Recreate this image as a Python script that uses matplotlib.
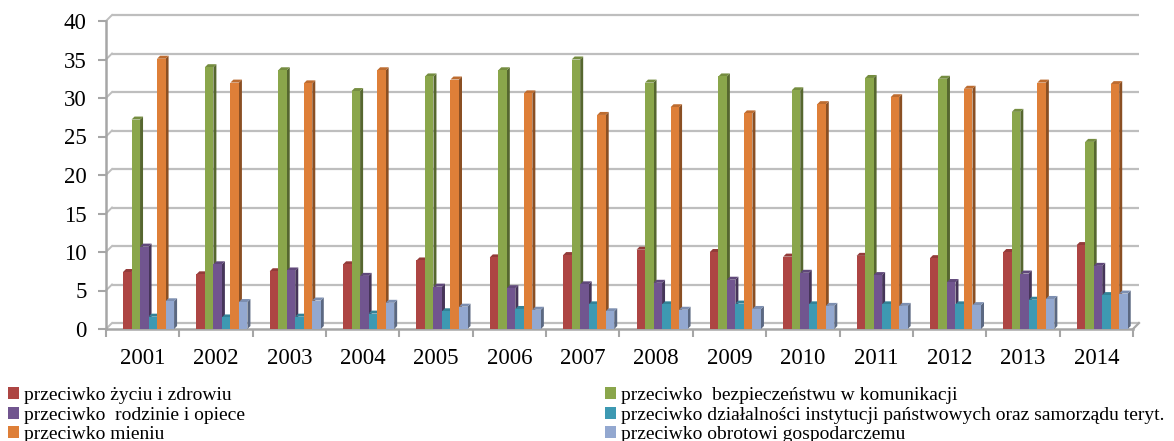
import numpy as np
import matplotlib
matplotlib.use("Agg")
import matplotlib.pyplot as plt
from matplotlib.patches import Patch

years = ["2001", "2002", "2003", "2004", "2005", "2006", "2007",
         "2008", "2009", "2010", "2011", "2012", "2013", "2014"]

zycie = [7.4, 7.1, 7.5, 8.4, 8.9, 9.3, 9.6, 10.3, 10.0, 9.4, 9.5, 9.2, 10.0, 10.9]
komunikacja = [27.2, 34.0, 33.6, 30.9, 32.8, 33.6, 35.0, 32.0, 32.8, 31.0, 32.6, 32.5, 28.2, 24.3]
rodzina = [10.7, 8.4, 7.6, 6.9, 5.5, 5.3, 5.8, 6.0, 6.4, 7.3, 7.0, 6.1, 7.2, 8.2]
instytucje = [1.6, 1.5, 1.6, 2.0, 2.3, 2.6, 3.2, 3.2, 3.3, 3.2, 3.2, 3.2, 3.8, 4.4]
mienie = [35.1, 32.0, 31.9, 33.6, 32.4, 30.6, 27.8, 28.8, 28.0, 29.2, 30.1, 31.2, 32.0, 31.8]
obrot = [3.6, 3.5, 3.7, 3.4, 2.9, 2.5, 2.3, 2.5, 2.6, 3.0, 3.0, 3.1, 3.9, 4.6]

labels = ["przeciwko życiu i zdrowiu",
          "przeciwko  bezpieczeństwu w komunikacji",
          "przeciwko  rodzinie i opiece",
          "przeciwko działalności instytucji państwowych oraz samorządu teryt.",
          "przeciwko mieniu",
          "przeciwko obrotowi gospodarczemu"]
series = [zycie, komunikacja, rodzina, instytucje, mienie, obrot]
colors = ["#AD4543", "#8AA64B", "#71558F", "#3D99B2", "#DE7F38", "#93A8D0"]

FONT = ["Liberation Serif", "DejaVu Serif"]
plt.rcParams["font.family"] = FONT

W, H, DPI = 1174, 441, 100
fig = plt.figure(figsize=(W / DPI, H / DPI), dpi=DPI)
left_px, right_px, bottom_px, top_px = 106, 1133, 329, 21
ax = fig.add_axes([left_px / W, 1 - bottom_px / H,
                   (right_px - left_px) / W, (bottom_px - top_px) / H])
n = len(years)
ymax = 40
ax.set_xlim(0, n)
ax.set_ylim(0, ymax)

px_x = (right_px - left_px) / n
px_y = (bottom_px - top_px) / ymax

# back wall offset (3D look)
wall = 6
dxw, dyw = wall / px_x, wall / px_y
grid_c = "#BEBEBE"
for v in range(0, ymax + 1, 5):
    ax.plot([dxw, n + dxw], [v + dyw, v + dyw], color=grid_c, lw=1.6,
            zorder=1, clip_on=False, solid_capstyle="butt")
    ax.plot([0, dxw], [v, v + dyw], color=grid_c, lw=1.4, zorder=1,
            clip_on=False)
ax.plot([n, n + dxw], [0, dyw], color="#A8A8A8", lw=1.6, zorder=1, clip_on=False)

# bars with 3D faces
pitch = 0.116
start = 0.232
depth = 3
dx, dy = depth / px_x, depth / px_y


def shade(c, f):
    r, g, b = matplotlib.colors.to_rgb(c)
    return (r * f, g * f, b * f)


x = np.arange(n)
for i, (vals, col) in enumerate(zip(series, colors)):
    z = 2 + i * 0.1
    x0s = x + start + i * pitch
    ax.bar(x0s, vals, width=pitch, align="edge", color=col, zorder=z + 0.02,
           linewidth=0)
    for x0, h in zip(x0s, vals):
        x1 = x0 + pitch
        ax.fill([x1, x1 + dx, x1 + dx, x1], [0, dy, h + dy, h],
                color=shade(col, 0.62), zorder=z, lw=0)
        ax.fill([x0, x0 + dx, x1 + dx, x1], [h, h + dy, h + dy, h],
                color=shade(col, 0.85), zorder=z + 0.01, lw=0)

# axes styling
for s in ["top", "right"]:
    ax.spines[s].set_visible(False)
axis_c = "#A6A6A6"
for s in ["left", "bottom"]:
    ax.spines[s].set_color(axis_c)
    ax.spines[s].set_linewidth(1.8)
    ax.spines[s].set_zorder(1.5)

ax.set_yticks(range(0, ymax + 1, 5))
ax.tick_params(axis="y", direction="out", length=6, width=1.5, color=axis_c,
               labelsize=16.5, pad=8)
ax.set_xticks(x + 0.5)
ax.set_xticklabels(years)
ax.set_xticks(np.arange(n + 1), minor=True)
ax.tick_params(axis="x", which="major", length=0, labelsize=16.5, pad=14)
ax.tick_params(axis="x", which="minor", direction="out", length=5.5,
               width=1.5, color=axis_c)

# legend (two columns)
handles = [Patch(facecolor=c, edgecolor="none") for c in colors]
kw = dict(frameon=False, fontsize=14, handlelength=0.55, handleheight=0.55,
          handletextpad=0.25, labelspacing=0.13, borderpad=0, borderaxespad=0,
          loc="upper left")
leg1 = fig.legend([handles[0], handles[2], handles[4]],
                  [labels[0], labels[2], labels[4]],
                  bbox_to_anchor=(8 / W, 1 - 387 / H), **kw)
leg2 = fig.legend([handles[1], handles[3], handles[5]],
                  [labels[1], labels[3], labels[5]],
                  bbox_to_anchor=(605 / W, 1 - 387 / H), **kw)

fig.savefig("out.png", dpi=DPI)
